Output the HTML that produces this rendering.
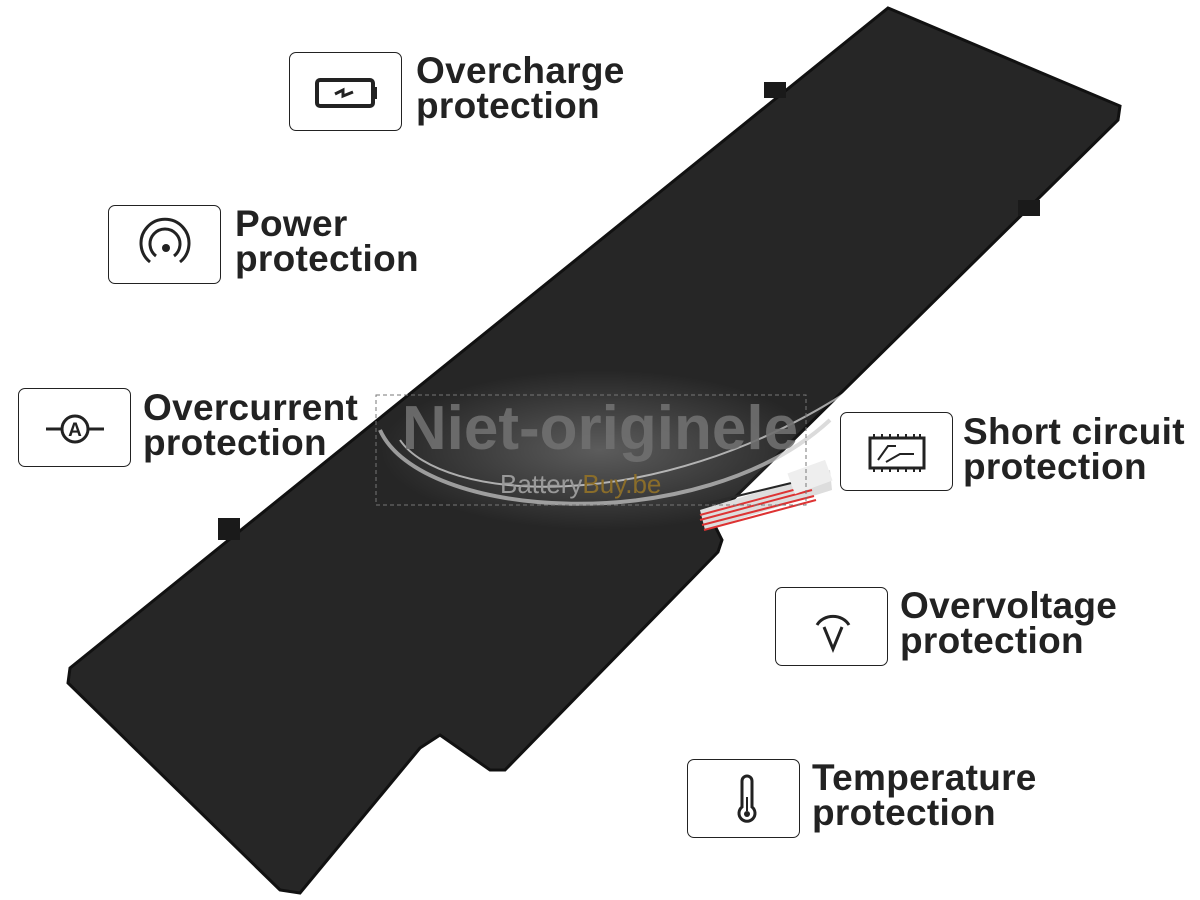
<!DOCTYPE html>
<html><head><meta charset="utf-8"><style>
body{margin:0;width:1200px;height:900px;background:#fff;position:relative;overflow:hidden;font-family:"Liberation Sans",sans-serif}
.box{position:absolute;width:113px;height:79px;border:1.5px solid #222;border-radius:7px;background:#fff;box-sizing:border-box}
.box svg{position:absolute;left:0;top:0}
.t{position:absolute;font-weight:bold;font-size:37px;line-height:35px;color:#222;letter-spacing:0.3px}
</style></head><body>
<svg width="1200" height="900" style="position:absolute;left:0;top:0">
<defs><radialGradient id="g" cx="0.5" cy="0.5" r="0.5"><stop offset="0" stop-color="#fff" stop-opacity=".25"/><stop offset="1" stop-color="#fff" stop-opacity="0"/></radialGradient></defs>
<polygon points="888,8 1120,106 1118,120 712,520 722,540 718,552 505,770 490,770 440,735 420,748 300,893 280,890 68,683 70,668" fill="#262626" stroke="#111" stroke-width="3"/>
<rect x="764" y="82" width="22" height="16" fill="#1a1a1a"/>
<rect x="1018" y="200" width="22" height="16" fill="#1a1a1a"/>
<rect x="218" y="518" width="22" height="22" fill="#1a1a1a"/>
<path d="M700 510 L830 470 L832 490 L705 530 Z" fill="#ddd"/>
<path d="M700 515 L812 485 M700 520 L812 490 M702 525 L814 496 M704 530 L816 500" stroke="#d33" stroke-width="2"/>
<path d="M700 505 L812 478" stroke="#222" stroke-width="2"/>
<rect x="790" y="466" width="40" height="22" fill="#eee" transform="rotate(-20 810 477)"/>
<ellipse cx="600" cy="450" rx="220" ry="80" fill="url(#g)"/>
<path d="M380 430 C 420 520, 700 540, 830 420" stroke="#ccc" stroke-width="4" fill="none" opacity=".7"/>
<path d="M400 440 C 440 500, 650 520, 850 390" stroke="#fff" stroke-width="2" fill="none" opacity=".6"/>
<rect x="376" y="395" width="430" height="110" fill="none" stroke="#777" stroke-dasharray="4 3" stroke-width="1"/>
<text x="600" y="449" text-anchor="middle" font-family="Liberation Sans" font-weight="bold" font-size="62" fill="#707070" opacity=".9">Niet-originele</text>
<text x="500" y="493" font-family="Liberation Sans" font-size="26" fill="#999">Battery<tspan fill="#8a6d2a">Buy.be</tspan></text>
</svg>

<div class="box" style="left:289px;top:52px"><svg width="113" height="79"><rect x="27" y="27" width="56" height="26" rx="3" fill="none" stroke="#222" stroke-width="4"/><rect x="83" y="34" width="4" height="12" fill="#222"/><path d="M45 41 L53 37 L53 43 L63 39" stroke="#222" stroke-width="3" fill="none"/></svg></div>
<div class="t" style="left:416px;top:53px">Overcharge<br>protection</div>

<div class="box" style="left:108px;top:205px"><svg width="113" height="79"><path d="M41 56 A 24 24 0 1 1 71 56" fill="none" stroke="#222" stroke-width="3"/><path d="M47 50 A 15 15 0 1 1 65 50" fill="none" stroke="#222" stroke-width="3"/><circle cx="57" cy="42" r="4" fill="#222"/></svg></div>
<div class="t" style="left:235px;top:206px">Power<br>protection</div>

<div class="box" style="left:18px;top:388px"><svg width="113" height="79"><circle cx="56" cy="40" r="13" fill="none" stroke="#222" stroke-width="3"/><path d="M27 40 H43 M69 40 H85" stroke="#222" stroke-width="3"/><text x="56" y="47" text-anchor="middle" font-family="Liberation Sans" font-weight="bold" font-size="19" fill="#222">A</text></svg></div>
<div class="t" style="left:143px;top:390px">Overcurrent<br>protection</div>

<div class="box" style="left:840px;top:412px"><svg width="113" height="79"><rect x="29" y="25" width="54" height="30" fill="none" stroke="#222" stroke-width="3"/><path d="M33 21 V25 M41 21 V25 M49 21 V25 M57 21 V25 M65 21 V25 M73 21 V25 M79 21 V25 M33 55 V59 M41 55 V59 M49 55 V59 M57 55 V59 M65 55 V59 M73 55 V59 M79 55 V59 M37 47 L47 33 L55 33 M45 49 L59 41 L73 41" stroke="#222" stroke-width="2" fill="none"/></svg></div>
<div class="t" style="left:963px;top:414px">Short circuit<br>protection</div>

<div class="box" style="left:775px;top:587px"><svg width="113" height="79"><path d="M41 37 A 18 16 0 0 1 73 37" fill="none" stroke="#222" stroke-width="3"/><path d="M48 39 L57 61 L66 39" fill="none" stroke="#222" stroke-width="3"/></svg></div>
<div class="t" style="left:900px;top:588px">Overvoltage<br>protection</div>

<div class="box" style="left:687px;top:759px"><svg width="113" height="79"><path d="M54 21 V47 A 8 8 0 1 0 64 47 V21 A5 5 0 0 0 54 21 Z" fill="none" stroke="#222" stroke-width="3"/><circle cx="59" cy="54" r="3" fill="#222"/><path d="M59 37 V51" stroke="#222" stroke-width="2"/></svg></div>
<div class="t" style="left:812px;top:760px">Temperature<br>protection</div>
</body></html>
